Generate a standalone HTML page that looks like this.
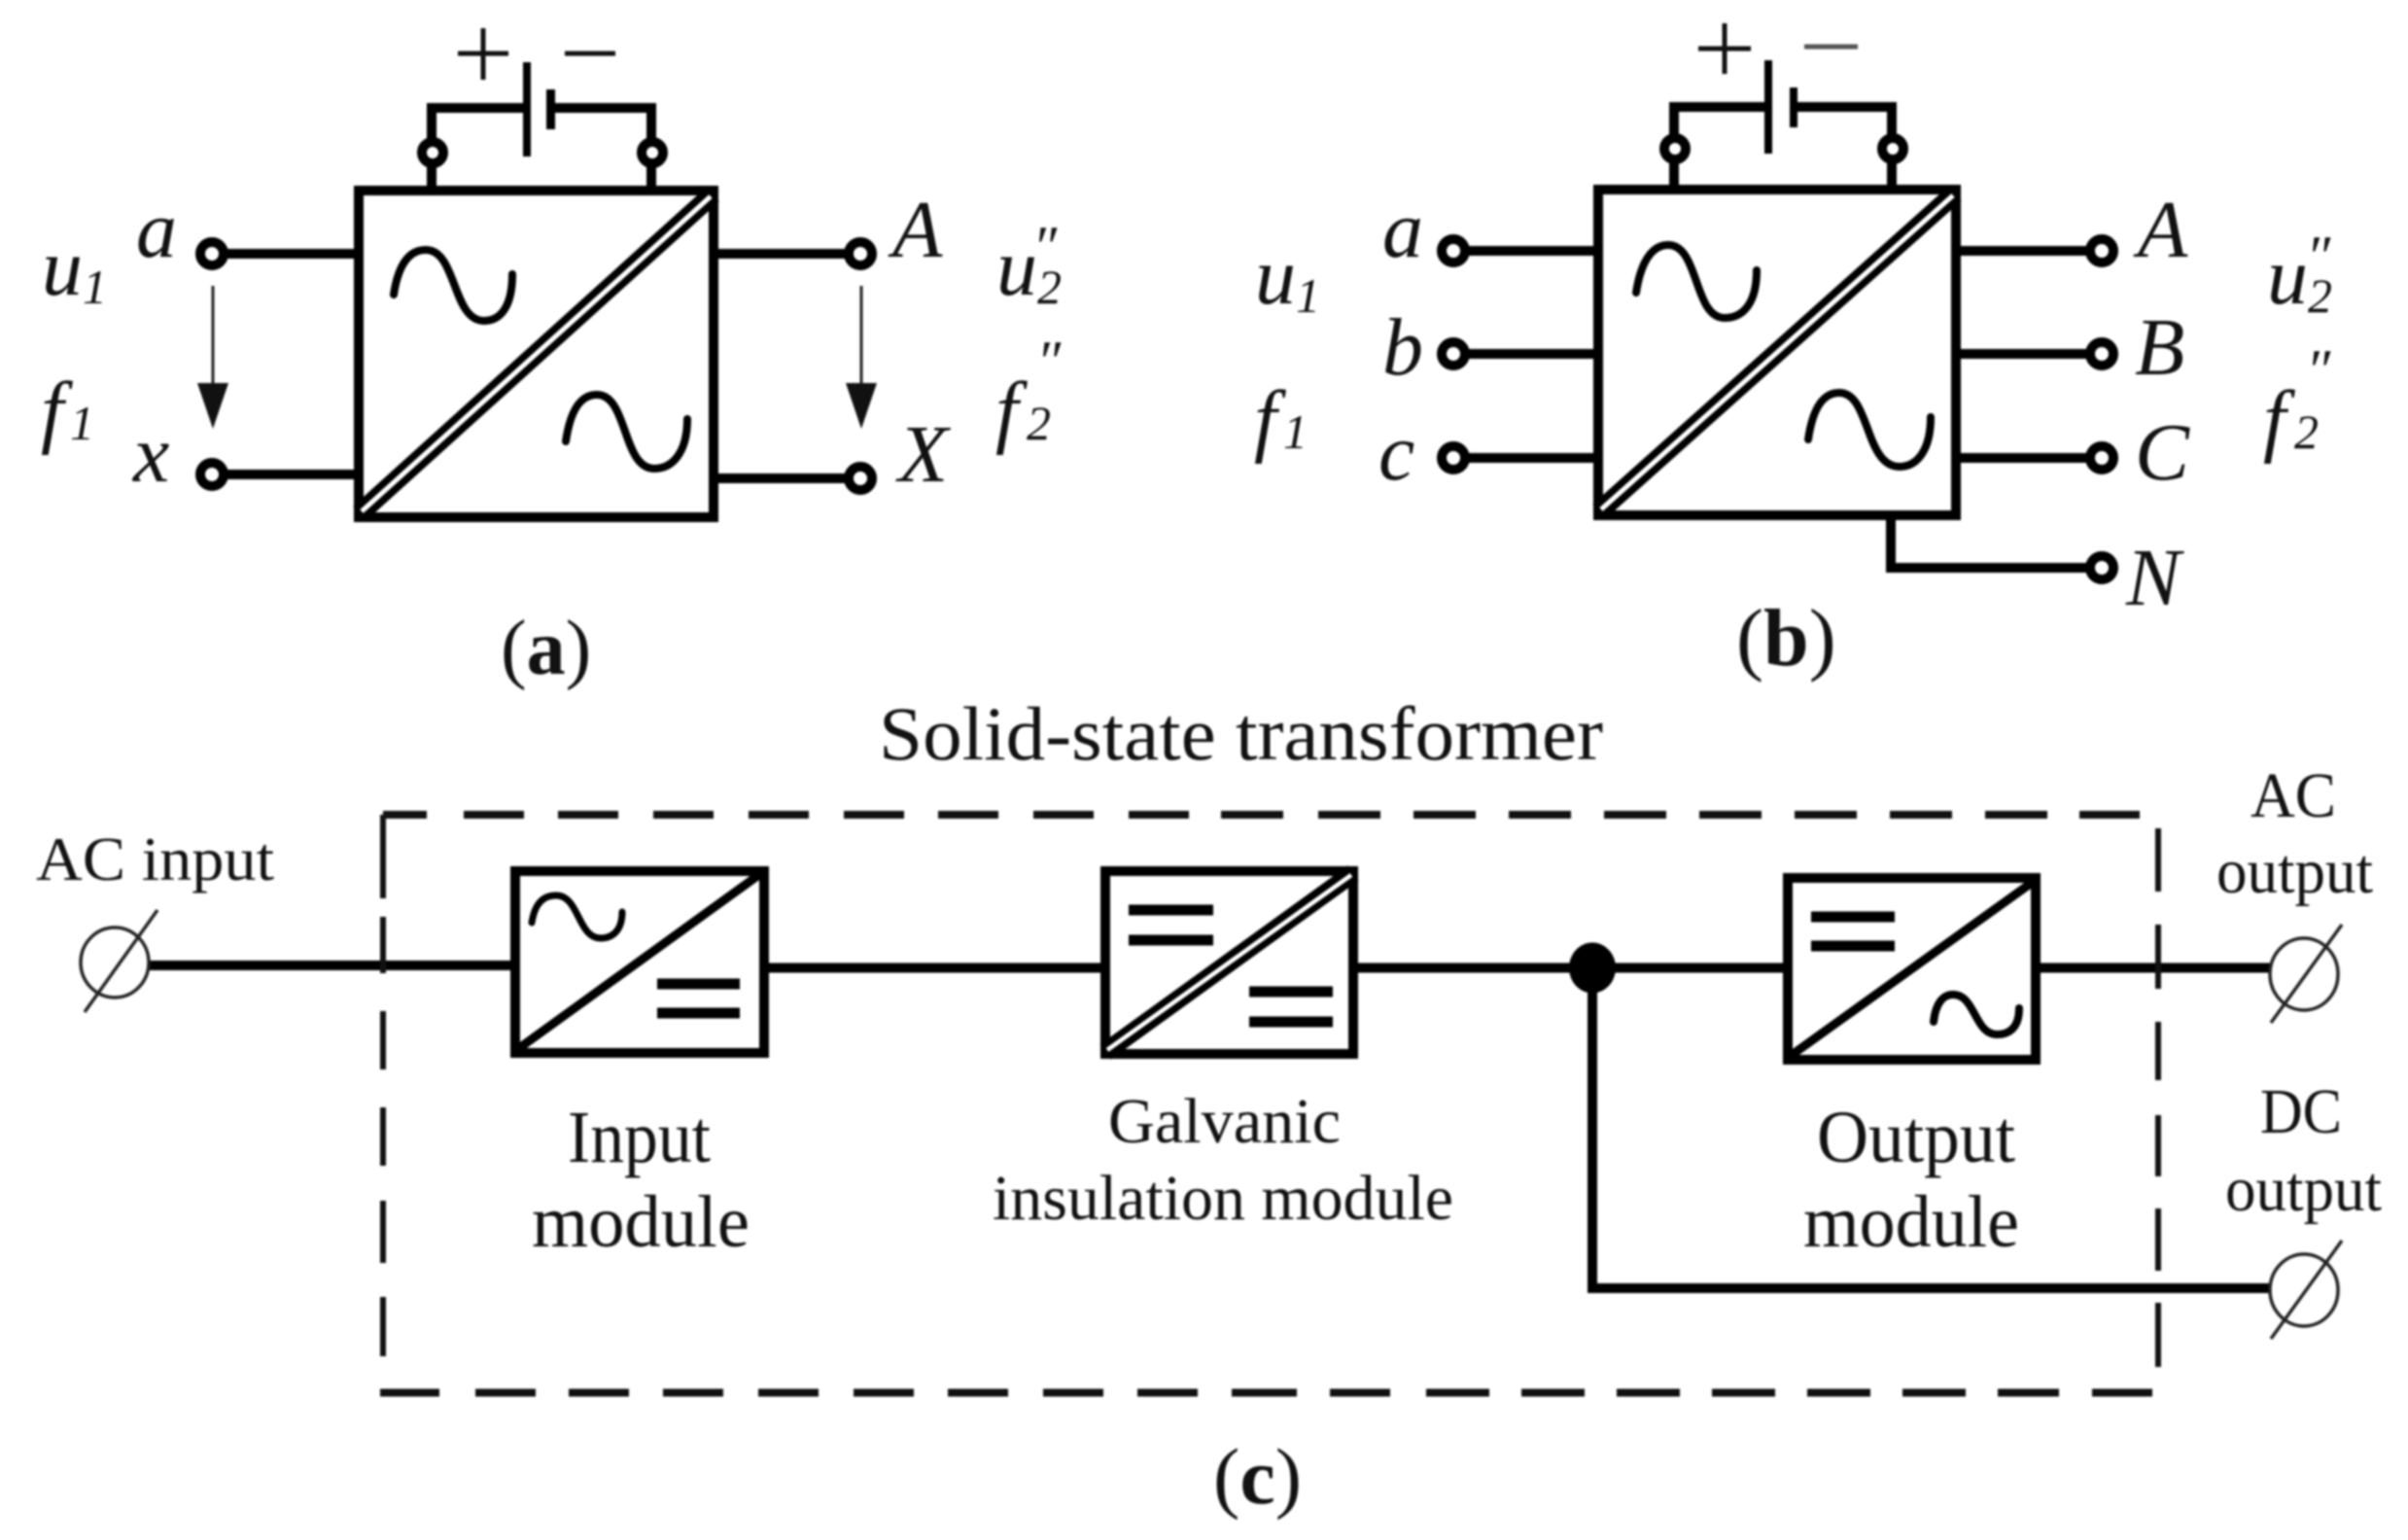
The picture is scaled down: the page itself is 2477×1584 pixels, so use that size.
<!DOCTYPE html>
<html><head><meta charset="utf-8"><style>
html,body{margin:0;padding:0;background:#fff}
svg{display:block;width:2477px;height:1584px;filter:blur(1px)}
text{font-family:"Liberation Serif",serif;fill:#111}
.i{font-style:italic;font-size:84px}
.s{font-style:italic;font-size:50px}
.w{fill:none;stroke:#000;stroke-width:10}
.o{fill:#fff;stroke:#000;stroke-width:10}
.h{fill:none;stroke:#000;stroke-width:8;stroke-linecap:round}
.d{fill:none;stroke:#111;stroke-width:8}
.v{fill:none;stroke:#111;stroke-width:6}
.p{fill:none;stroke:#222;stroke-width:3.5}
</style></head><body>
<svg xmlns="http://www.w3.org/2000/svg" width="2477" height="1584" viewBox="0 0 2477 1584">
<rect width="2477" height="1584" fill="#fff"/>

<!-- (a) -->
<path class="w" d="M230 261H370M230 488H370M733 261H872M733 492H872"/>
<path class="w" d="M444 196V111H542M567 111H670V196"/>
<rect class="w" x="369" y="196" width="365" height="336"/>
<path d="M370 528L733 200" stroke="#000" stroke-width="20" fill="none"/>
<path d="M372 526L731 202" stroke="#fff" stroke-width="5" fill="none"/>
<rect x="538" y="64" width="8" height="97"/><rect x="562" y="92" width="9" height="41"/>
<circle class="o" cx="445" cy="157" r="11"/><circle class="o" cx="671" cy="157" r="11"/>
<circle class="o" cx="218" cy="261" r="12"/><circle class="o" cx="218" cy="488" r="12"/>
<circle class="o" cx="885" cy="261" r="12"/><circle class="o" cx="885" cy="492" r="12"/>
<path d="M471 55H523M497 29V82M581 55H633" stroke="#111" stroke-width="5" fill="none"/>
<path class="h" d="M405 303C410 270 422 257 438 257C470 257 465 330 498 330C515 330 527 315 527 282"/>
<path class="h" d="M582 454C587 420 598 406 614 406C646 406 640 482 673 482C692 482 707 465 707 431"/>
<path d="M219 294V400M886 294V400" stroke="#222" stroke-width="3" fill="none"/>
<path d="M203 394H235L219 441ZM870 394H902L886 441Z" fill="#111"/>
<text class="i" x="140" y="264">a</text>
<text class="i" x="43" y="303">u</text><text class="s" x="85" y="312">1</text>
<text class="i" x="42" y="450">f</text><text class="s" x="72" y="452">1</text>
<text class="i" x="137" y="495">x</text>
<text class="i" x="918" y="264">A</text>
<text class="i" x="924" y="495">X</text>
<text class="i" x="1025" y="303">u</text><text class="s" x="1067" y="312">2</text><text class="s" x="1062" y="274" style="font-size:60px">″</text>
<text class="i" x="1024" y="450">f</text><text class="s" x="1056" y="452">2</text><text class="s" x="1066" y="392" style="font-size:60px">″</text>
<text x="515" y="693" font-size="80">(<tspan font-weight="bold">a</tspan>)</text>

<!-- (b) -->
<path class="w" d="M1507 258H1645M1507 364H1645M1507 471H1645M2011 258H2150M2011 364H2150M2011 471H2150M1945 530V584H2150"/>
<path class="w" d="M1722 195V110H1819M1845 110H1946V195"/>
<rect class="w" x="1644" y="195" width="368" height="335"/>
<path d="M1645 526L2011 199" stroke="#000" stroke-width="20" fill="none"/>
<path d="M1647 524L2009 201" stroke="#fff" stroke-width="5" fill="none"/>
<rect x="1815" y="62" width="8" height="96"/><rect x="1841" y="90" width="8" height="41"/>
<circle class="o" cx="1723" cy="153" r="11"/><circle class="o" cx="1947" cy="153" r="11"/>
<circle class="o" cx="1495" cy="258" r="12"/><circle class="o" cx="1495" cy="364" r="12"/><circle class="o" cx="1495" cy="471" r="12"/>
<circle class="o" cx="2162" cy="258" r="12"/><circle class="o" cx="2162" cy="364" r="12"/><circle class="o" cx="2162" cy="471" r="12"/><circle class="o" cx="2162" cy="584" r="12"/>
<path d="M1747 50H1801M1774 24V76" stroke="#111" stroke-width="5" fill="none"/>
<path d="M1856 48H1911" stroke="#555" stroke-width="5" fill="none"/>
<path class="h" d="M1683 301C1688 268 1700 252 1716 252C1748 252 1742 327 1774 327C1793 327 1807 312 1807 278"/>
<path class="h" d="M1860 452C1865 418 1876 404 1892 404C1924 404 1918 480 1954 480C1972 480 1986 463 1986 429"/>
<text class="i" x="1422" y="264">a</text><text class="i" x="1422" y="385">b</text><text class="i" x="1418" y="493">c</text>
<text class="i" x="1291" y="312">u</text><text class="s" x="1333" y="321">1</text>
<text class="i" x="1290" y="459">f</text><text class="s" x="1320" y="461">1</text>
<text class="i" x="2199" y="264">A</text><text class="i" x="2196" y="385">B</text><text class="i" x="2196" y="493">C</text><text class="i" x="2187" y="622">N</text>
<text class="i" x="2332" y="312">u</text><text class="s" x="2374" y="321">2</text><text class="s" x="2372" y="284" style="font-size:60px">″</text>
<text class="i" x="2328" y="459">f</text><text class="s" x="2360" y="461">2</text><text class="s" x="2372" y="401" style="font-size:60px">″</text>
<text x="1786" y="684" font-size="84">(<tspan font-weight="bold">b</tspan>)</text>

<!-- (c) -->
<text x="904" y="781" font-size="78" textLength="745" lengthAdjust="spacingAndGlyphs">Solid-state transformer</text>
<path class="w" d="M153 993H530M786 995.5H1137M1392 995.5H1839M2094 995.5H2336M1638 995V1325H2336"/>
<path class="d" d="M394 838H439M477 838H539M574 838H636M672 838H734M770 838H832M868 838H930M965 838H1027M1063 838H1125M1161 838H1223M1256 838H1320M1356 838H1420M1454 838H1518M1552 838H1616M1650 838H1714M1748 838H1812M1846 838H1910M1944 838H2008M2042 838H2106M2139 838H2201"/>
<path class="d" d="M391 1432.5H452M489 1432.5H551M585 1432.5H647M682 1432.5H744M780 1432.5H842M878 1432.5H940M975 1432.5H1037M1073 1432.5H1135M1170 1432.5H1232M1267 1432.5H1334M1368 1432.5H1430M1467 1432.5H1532M1565 1432.5H1630M1663 1432.5H1728M1761 1432.5H1826M1859 1432.5H1924M1957 1432.5H2022M2055 1432.5H2118M2152 1432.5H2214"/>
<path class="v" d="M394 838V924M394 943V1001M394 1040V1100M394 1139V1199M394 1235V1299M394 1334V1395"/>
<path class="v" d="M2220 852V917M2220 951V1017M2220 1051V1111M2220 1147V1210M2220 1243V1307M2220 1340V1406"/>

<rect class="w" x="530" y="896" width="256" height="187" style="fill:#fff"/>
<path d="M530 1081L786 896" stroke="#000" stroke-width="9" fill="none"/>
<path class="h" d="M547 949C550 930 558 921 572 921C596 921 594 965 618 965C630 965 640 957 640 938" style="stroke-width:7"/>
<path d="M676 1012H761M676 1042H761" stroke="#000" stroke-width="11" fill="none"/>

<rect class="w" x="1137" y="896" width="255" height="188" style="fill:#fff"/>
<path d="M1137 1082L1392 898" stroke="#000" stroke-width="19" fill="none"/>
<path d="M1139 1080L1390 900" stroke="#fff" stroke-width="4.5" fill="none"/>
<path d="M1161 936H1248M1161 967H1248M1285 1020H1371M1285 1051H1371" stroke="#000" stroke-width="11" fill="none"/>

<rect class="w" x="1839" y="903" width="255" height="187" style="fill:#fff"/>
<path d="M1839 1088L2094 905" stroke="#000" stroke-width="9" fill="none"/>
<path d="M1863 943H1949M1863 973H1949" stroke="#000" stroke-width="11" fill="none"/>
<path class="h" d="M1989 1051C1991 1033 1998 1023 2009 1023C2032 1023 2031 1064 2054 1064C2068 1064 2077 1056 2077 1037"/>

<ellipse cx="1638" cy="995.5" rx="24" ry="26"/>
<ellipse class="p" cx="118" cy="990" rx="35" ry="36"/><path class="p" d="M162 936L87 1041"/>
<ellipse class="p" cx="2370" cy="1002" rx="35" ry="37"/><path class="p" d="M2409 951L2336 1052"/>
<ellipse class="p" cx="2370" cy="1327" rx="35" ry="37"/><path class="p" d="M2409 1276L2336 1377"/>

<text x="37" y="905" style="font-size:64px" textLength="245" lengthAdjust="spacingAndGlyphs">AC input</text>
<text x="584" y="1195" style="font-size:76px" textLength="147" lengthAdjust="spacingAndGlyphs">Input</text>
<text x="547" y="1282" style="font-size:76px" textLength="224" lengthAdjust="spacingAndGlyphs">module</text>
<text x="1140" y="1175" style="font-size:66px" textLength="239" lengthAdjust="spacingAndGlyphs">Galvanic</text>
<text x="1021" y="1254" style="font-size:66px" textLength="474" lengthAdjust="spacingAndGlyphs">insulation module</text>
<text x="1869" y="1195" style="font-size:76px" textLength="204" lengthAdjust="spacingAndGlyphs">Output</text>
<text x="1855" y="1282" style="font-size:76px" textLength="222" lengthAdjust="spacingAndGlyphs">module</text>
<text x="2315" y="840" style="font-size:66px" textLength="88" lengthAdjust="spacingAndGlyphs">AC</text>
<text x="2280" y="918" style="font-size:66px" textLength="161" lengthAdjust="spacingAndGlyphs">output</text>
<text x="2325" y="1165" style="font-size:66px" textLength="84" lengthAdjust="spacingAndGlyphs">DC</text>
<text x="2289" y="1245" style="font-size:66px" textLength="161" lengthAdjust="spacingAndGlyphs">output</text>
<text x="1248" y="1546" font-size="82">(<tspan font-weight="bold">c</tspan>)</text>
</svg>
</body></html>
